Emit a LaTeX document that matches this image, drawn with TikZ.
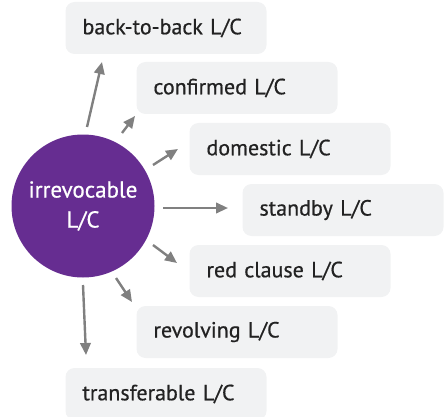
\documentclass[tikz,border=0pt]{standalone}
\usepackage{fontspec}
\setmainfont{PT Sans}[FakeBold=0.6]
\newfontfamily\medfont{PT Sans}[FakeBold=0.6]
\usetikzlibrary{arrows.meta}
\definecolor{boxgray}{RGB}{241,242,243}
\definecolor{purp}{RGB}{102,45,145}
\definecolor{arrgray}{RGB}{128,128,128}
\definecolor{txt}{RGB}{34,34,34}
\tikzset{
  lcbox/.style={rectangle, rounded corners=9pt, fill=boxgray, minimum width=201pt, minimum height=52pt, text width=167pt, align=left, inner xsep=17pt, inner ysep=0pt, font=\medfont\fontsize{22}{26}\selectfont, text=txt},
  conn/.style={draw=arrgray, line width=2.4pt, -{Triangle[length=12pt,width=10.5pt]}}
}
\begin{document}
\begin{tikzpicture}[x=1pt,y=-1pt]
\useasboundingbox (0,0) rectangle (444,417);
\node[circle, fill=purp, minimum size=143pt, inner sep=0pt, align=center, text=white, font=\medfont\fontsize{23}{30}\selectfont] (c) at (83,206) {irrevocable\\L/C};
\node[lcbox] (b1) at (166,28) {back-to-back L/C};
\node[lcbox] (b2) at (237,88) {confirmed L/C};
\node[lcbox] (b3) at (290,149) {domestic L/C};
\node[lcbox] (b4) at (343,210) {standby L/C};
\node[lcbox] (b5) at (290,271) {red clause L/C};
\node[lcbox] (b6) at (237,332) {revolving L/C};
\node[lcbox] (b7) at (166,394) {transferable L/C};
\coordinate (s1) at (87,127); \coordinate (t1) at (102,62);
\coordinate (s2) at (122,133); \coordinate (t2) at (135,116);
\coordinate (s3) at (153,165); \coordinate (t3) at (178,149);
\coordinate (s4) at (163,208); \coordinate (t4) at (228,208);
\coordinate (s5) at (153,245); \coordinate (t5) at (177,263);
\coordinate (s6) at (116,278); \coordinate (t6) at (132,302);
\coordinate (s7) at (83,285); \coordinate (t7) at (86,355);
\foreach \i in {1,...,7} { \draw[conn] (s\i) -- (t\i); }
\end{tikzpicture}
\end{document}
